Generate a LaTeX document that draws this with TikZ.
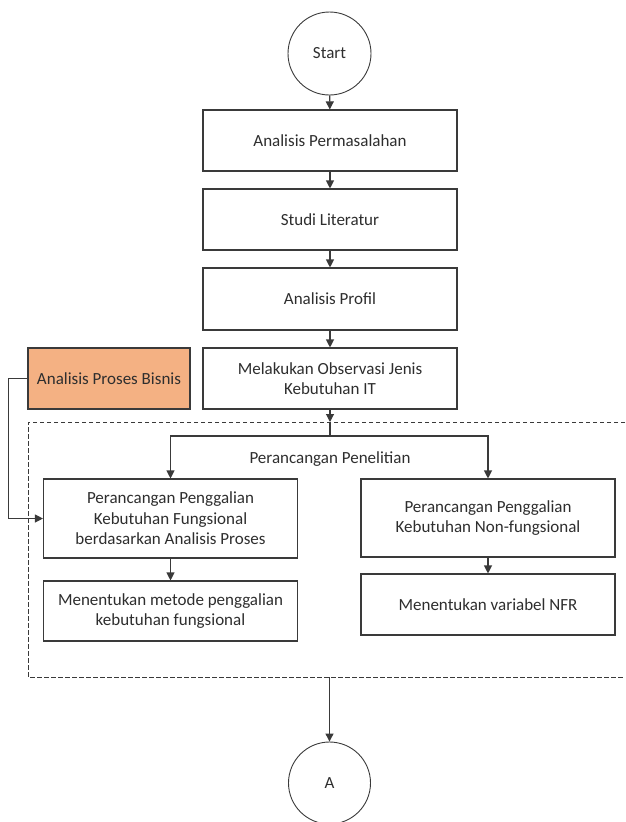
\documentclass[tikz,border=0pt]{standalone}
\usepackage{fontspec}
\setmainfont{Carlito}
\usetikzlibrary{arrows.meta}
\definecolor{ink}{HTML}{3A3A3A}
\definecolor{txt}{HTML}{2E2E2E}
\definecolor{orangefill}{HTML}{F4B183}
\tikzset{
  x=1pt, y=-1pt,
  every node/.style={font=\fontsize{17}{20.5}\selectfont, text=txt},
  procbox/.style={draw=ink, line width=1.1pt, fill=white, minimum width=254pt, align=center, inner sep=0pt},
  extbox/.style={procbox, fill=orangefill, minimum width=162pt},
  terminal/.style={draw=ink, line width=0.9pt, circle, inner sep=0pt},
  conn/.style={draw=ink, line width=1.1pt},
  arr/.style={conn, -{Triangle[width=8pt,length=8pt]}},
  groupline/.style={draw=ink, line width=0.9pt, dash pattern=on 4.5pt off 2.5pt}
}
\begin{document}
\begin{tikzpicture}
\useasboundingbox (0,0) rectangle (625,822);

% main column
\node[terminal, minimum size=83pt] (start) at (329.5,53.5) {Start};
\node[procbox, minimum height=61pt] (perm) at (330,140.5) {Analisis Permasalahan};
\node[procbox, minimum height=61pt] (lit) at (330,219.5) {Studi Literatur};
\node[procbox, minimum height=62pt] (prof) at (330,299) {Analisis Profil};
\node[procbox, minimum height=61pt] (obs) at (330,378.5) {Melakukan Observasi Jenis\\Kebutuhan IT};
\node[extbox, minimum height=61pt] (bisnis) at (109,378.5) {Analisis Proses Bisnis};

% research design group (open on the right)
\coordinate (gtr) at (625,422);
\coordinate (gtl) at (28,422);
\coordinate (gbl) at (28,677);
\coordinate (gbr) at (625,677);
\draw[groupline] (gtr) -- (gtl) -- (gbl) -- (gbr);
\node (grouplabel) at (330,459) {Perancangan Penelitian};

\node[procbox, minimum height=79pt] (fung) at (170.5,518.5) {Perancangan Penggalian\\Kebutuhan Fungsional\\berdasarkan Analisis Proses};
\node[procbox, minimum height=60pt] (metode) at (170.5,611) {Menentukan metode penggalian\\kebutuhan fungsional};
\node[procbox, minimum height=78pt] (nonf) at (488,518) {Perancangan Penggalian\\Kebutuhan Non-fungsional};
\node[procbox, minimum height=61pt] (nfr) at (488,604.5) {Menentukan variabel NFR};

\node[terminal, minimum size=82pt] (endA) at (329.5,783) {A};

% connectors
\draw[arr] (start) -- (perm);
\draw[arr] (perm) -- (lit);
\draw[arr] (lit) -- (prof);
\draw[arr] (prof) -- (obs);
\coordinate (entry) at (obs.south |- gtl);
\coordinate (split) at (obs.south |- 0,436);
\draw[arr] (obs) -- (entry);
\draw[conn] (entry) -- (split);
\draw[arr] (split) -| (fung);
\draw[arr] (split) -| (nonf);
\draw[arr] (bisnis.west) -- ++(-19,0) |- (fung.west);
\draw[arr] (fung) -- (metode);
\draw[arr] (nonf) -- (nfr);
\coordinate (exit) at (endA.north |- gbl);
\draw[arr] (exit) -- (endA);
\end{tikzpicture}
\end{document}
